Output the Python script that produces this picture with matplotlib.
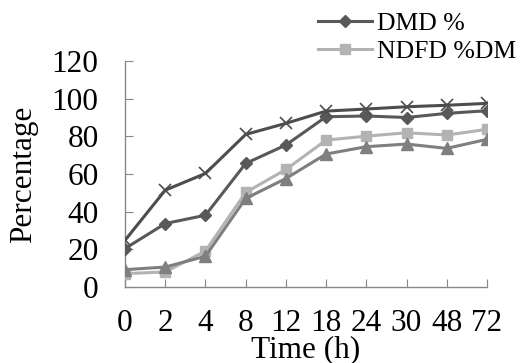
import numpy as np
import matplotlib
matplotlib.use('Agg')
import matplotlib.pyplot as plt

# データ
time_labels = ['0', '2', '4', '8', '12', '18', '24', '30', '48', '72']
dmd = [20.4, 33.7, 38.1, 65.6, 75.4, 90.4, 90.8, 90.0, 92.2, 93.6]
ndfd = [7.1, 8.0, 19.1, 50.2, 62.4, 78.0, 80.1, 81.9, 80.7, 83.7]
series_tri = [9.2, 10.6, 16.3, 47.0, 57.6, 70.6, 74.5, 75.9, 73.6, 78.4]
series_x = [24.8, 51.4, 60.3, 81.0, 86.9, 93.4, 94.5, 95.7, 96.5, 97.5]

plt.rcParams['font.family'] = ['Liberation Serif', 'DejaVu Serif']

W, H = 521, 363
fig = plt.figure(figsize=(W / 100, H / 100), dpi=100)
ax = fig.add_axes([125 / W, 1 - 287 / H, 362 / W, 226 / H])

x = np.arange(len(time_labels))

l1, = ax.plot(x, dmd, color='#595959', lw=2.2, marker='D', ms=6.5,
              mec='#595959', mfc='#595959', label='DMD %', zorder=3)
l2, = ax.plot(x, ndfd, color='#b3b3b3', lw=2.2, marker='s', ms=7.5,
              mec='#b3b3b3', mfc='#b3b3b3', label='NDFD %DM', zorder=3)
ax.plot(x, series_tri, color='#7f7f7f', lw=2.2, marker='^', ms=8.5,
        mec='#7f7f7f', mfc='#7f7f7f', zorder=4)
ax.plot(x, series_x, color='#4d4d4d', lw=2.2, marker='x', ms=9,
        mew=1.2, zorder=5)

ax.set_xlim(0, len(time_labels) - 1)
ax.set_ylim(0, 120)
ax.set_yticks(np.arange(0, 121, 20))
ax.set_xticks(x)
ax.set_xticklabels(time_labels)

for s in ['top', 'right']:
    ax.spines[s].set_visible(False)
for s in ['left', 'bottom']:
    ax.spines[s].set_color('#888888')
    ax.spines[s].set_linewidth(1.0)

ax.tick_params(axis='both', direction='in', length=6, color='#888888',
               labelsize=22.5)
ax.tick_params(axis='x', pad=16)
ax.tick_params(axis='y', pad=19)

# 軸ラベル（位置を固定）
fig.text(24 / W, 1 - 174 / H, 'Percentage', rotation=90, fontsize=22.5,
         ha='center', va='center')
fig.text(306 / W, 1 - 350 / H, 'Time (h)', fontsize=22.5,
         ha='center', va='center')

fig.legend(handles=[l1, l2], loc='upper left', bbox_to_anchor=(318 / W, 0.966),
           frameon=False, fontsize=18.5, handlelength=2.1, handletextpad=0.2,
           labelspacing=0.2, borderaxespad=0, borderpad=0)

fig.savefig('out.png', dpi=100)
